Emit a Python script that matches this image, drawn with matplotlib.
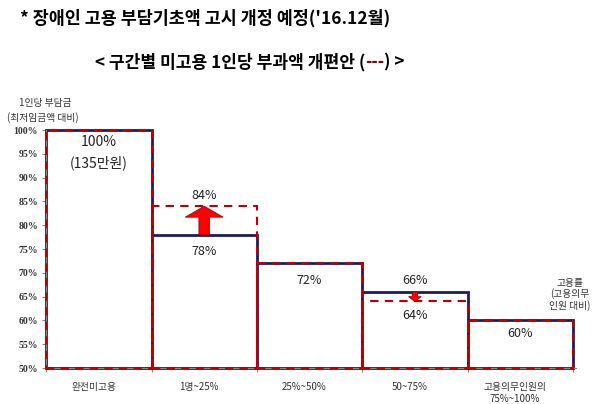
import matplotlib
matplotlib.use("Agg")
import matplotlib.pyplot as plt
import numpy as np
from matplotlib.patches import FancyArrow

plt.rcParams['font.family'] = ['Noto Sans CJK KR', 'DejaVu Sans']

categories = ["완전미고용", "1명~25%", "25%~50%", "50~75%", "고용의무인원의\n75%~100%"]
current = [100, 78, 72, 66, 60]
proposed = [100, 84, 72, 64, 60]
yticks = [50, 55, 60, 65, 70, 75, 80, 85, 90, 95, 100]

NAVY = "#1c1c64"
RED = "#c00000"

fig = plt.figure(figsize=(6.0, 4.04), dpi=100)
ax = fig.add_axes([0.077, 0.089, 0.883, 0.589])

x = np.arange(len(categories))
cur = np.array(current, dtype=float)
prop = np.array(proposed, dtype=float)

ax.bar(x, cur - 50, bottom=50, width=1, align='edge', facecolor='white',
       edgecolor=NAVY, linewidth=2, clip_on=False, zorder=2)
ax.bar(x, prop - 50, bottom=50, width=1, align='edge', fill=False,
       edgecolor=RED, linewidth=1.5, linestyle=(0, (4, 3)), clip_on=False, zorder=3)

ax.set_xlim(0, 5.03)
ax.set_ylim(50, 100)
ax.set_yticks(yticks)
ax.set_yticklabels([f"{v}%" for v in yticks], fontsize=7, fontweight='bold',
                   color='#333333', family=['Liberation Serif', 'DejaVu Serif'])
ax.set_xticks(np.arange(0, 6))
ax.set_xticklabels([])
ax.tick_params(axis='y', length=3, color='#888888', pad=3)
ax.tick_params(axis='x', length=3, color='#888888')
for s in ['top', 'right']:
    ax.spines[s].set_visible(False)
ax.spines['left'].set_color('#888888')
ax.spines['bottom'].set_color('#888888')

# category labels
for i, c in enumerate(categories):
    ax.text(i + 0.45, 47.0, c, ha='center', va='top', fontsize=7, color='#333333',
            linespacing=1.2, clip_on=False)

# value labels
ax.text(0.5, 97.4, "100%", ha='center', va='center', fontsize=10, color='#222222')
ax.text(0.5, 93.2, "(135만원)", ha='center', va='center', fontsize=10, color='#222222')
ax.text(1.5, 86.2, "84%", ha='center', va='center', fontsize=9, color='#222222')
ax.text(1.5, 74.4, "78%", ha='center', va='center', fontsize=9, color='#222222')
ax.text(2.5, 68.5, "72%", ha='center', va='center', fontsize=9, color='#222222')
ax.text(3.5, 68.3, "66%", ha='center', va='center', fontsize=9, color='#222222')
ax.text(3.5, 61.0, "64%", ha='center', va='center', fontsize=9, color='#222222')
ax.text(4.5, 57.3, "60%", ha='center', va='center', fontsize=9, color='#222222')

# arrows
ax.add_patch(FancyArrow(1.5, current[1], 0, proposed[1] - current[1], width=0.1,
                        head_width=0.36, head_length=2.3, length_includes_head=True,
                        facecolor='#ff0000', edgecolor='#b00000', linewidth=0.6, zorder=4))
ax.add_patch(FancyArrow(3.5, current[3], 0, proposed[3] - current[3], width=0.05,
                        head_width=0.12, head_length=1.0, length_includes_head=True,
                        facecolor='#ff0000', edgecolor='#b00000', linewidth=0.6, zorder=4))

# axis annotations
fig.text(0.075, 1 - 103 / 404, "1인당 부담금", ha='center', va='center', fontsize=7, color='#333333')
fig.text(0.072, 1 - 118 / 404, "(최저임금액 대비)", ha='center', va='center', fontsize=7, color='#333333')
fig.text(570 / 600, 1 - 283 / 404, "고용률", ha='center', va='center', fontsize=7, color='#333333')
fig.text(570 / 600, 1 - 294 / 404, "(고용의무", ha='center', va='center', fontsize=7, color='#333333')
fig.text(570 / 600, 1 - 306 / 404, "인원 대비)", ha='center', va='center', fontsize=7, color='#333333')

# titles
fig.text(20 / 600, 1 - 18 / 404, "* 장애인 고용 부담기초액 고시 개정 예정('16.12월)",
         ha='left', va='center', fontsize=12.5, fontweight='bold', color='black')

fig.canvas.draw()
r = fig.canvas.get_renderer()
t1 = fig.text(95 / 600, 1 - 62 / 404, "< 구간별 미고용 1인당 부과액 개편안 (",
              ha='left', va='center', fontsize=12.3, fontweight='bold', color='black')
bb = t1.get_window_extent(r)
t2 = fig.text(bb.x1 / fig.bbox.width, 1 - 62 / 404, "---", ha='left', va='center',
              fontsize=12.3, fontweight='bold', color='#8b0000')
bb2 = t2.get_window_extent(r)
fig.text(bb2.x1 / fig.bbox.width, 1 - 62 / 404, ") >", ha='left', va='center',
         fontsize=12.3, fontweight='bold', color='black')

fig.savefig("out.png", dpi=100, facecolor='white')
